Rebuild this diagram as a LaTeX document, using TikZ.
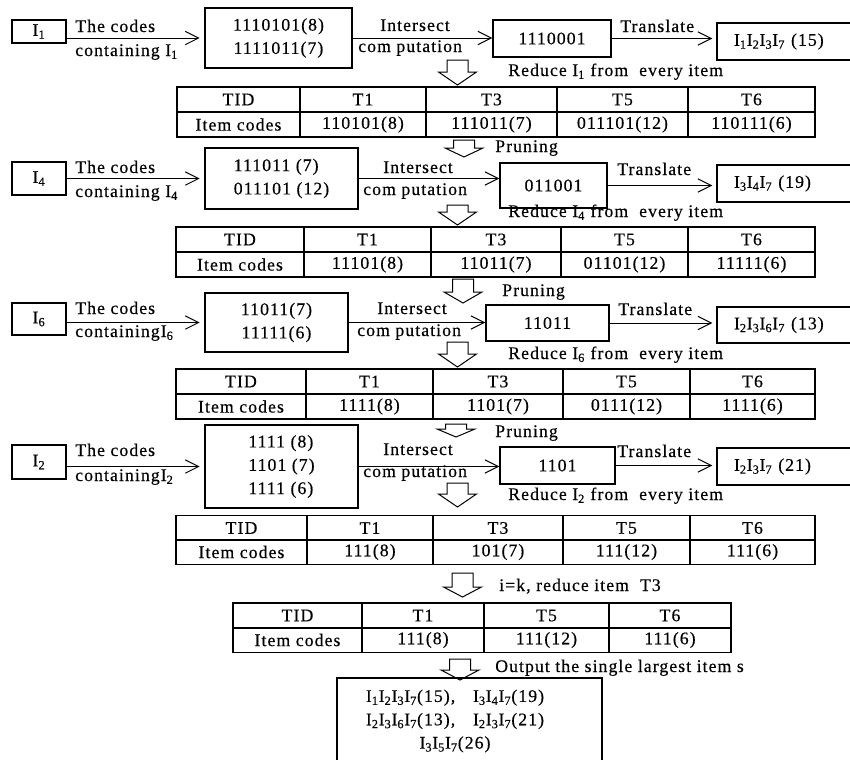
\documentclass[tikz,border=0pt]{standalone}
\usepackage{fontspec}
\setmainfont{Liberation Serif}[LetterSpace=6, FakeBold=0.4]
\usepackage{tikz}
\usetikzlibrary{arrows.meta}
\tikzstyle{box} = [rectangle, draw, line width=0.9pt, inner sep=0pt, align=center]
\tikzstyle{result} = [box, text width=75pt, inner xsep=12.75pt, align=left]
\tikzstyle{cell} = [rectangle, draw, line width=0.9pt, inner sep=0pt, minimum height=18.75pt]
\tikzstyle{lbl} = [anchor=west, inner sep=0pt, text height=9pt, text depth=3pt]
\tikzstyle{arrow} = [line width=0.75pt, ->, >={Straight Barb[length=10pt,width=10pt]}]
\tikzstyle{hollow} = [draw, line width=0.75pt, fill=white]
\tikzset{sz/.style 2 args={minimum width=#1*0.75pt, minimum height=#2*0.75pt}}
\newcommand{\itm}[1]{I\textsubscript{#1}}
\newcommand{\hollowdown}[4]{%
  \draw [hollow] (#1-10.5,#2) -- (#1+10.5,#2) -- (#1+10.5,#3-#4) -- (#1+19,#3-#4)
    -- (#1,#3) -- (#1-19,#3-#4) -- (#1-10.5,#3-#4) -- cycle;}

\begin{document}
\begin{tikzpicture}[x=0.75pt, y=-0.75pt, font=\fontsize{13.3}{17.5}\selectfont]
  \useasboundingbox (0,0) rectangle (850,760);

  % I1
  \node (i1) [box, sz={54}{23}] at (39,31.5) {\itm{1}};
  \node (c1) [box, sz={147}{60}] at (278.5,38) {1110101(8)\\1111011(7)};
  \node (s1) [box, sz={118}{37}] at (552,38.5) {1110001};
  \node (r1) [result, sz={134}{37}] at (784,41.5) {\itm{1}\itm{2}\itm{3}\itm{7} (15)};
  \draw [arrow, shorten >=3.5pt] (i1.east |- c1) -- (c1);
  \draw [arrow] (c1.east) -- (c1.east -| s1.west);
  \draw [arrow, shorten >=3pt] (s1.east) -- (s1.east -| r1.west);
  \node (l1a) [lbl] at (75,28) {The codes};
  \node (l1b) [lbl] at (75,52) {containing \itm{1}};
  \node (l1c) [lbl] at (380,27) {Intersect};
  \node (l1d) [lbl] at (358,48) {com putation};
  \node (l1e) [lbl] at (620,28) {Translate};
  \hollowdown{457.5}{60}{85}{13}
  \node (d1) [lbl] at (508,72) {Reduce \itm{1} from~~every item};
  \foreach \xa/\xb/\hd/\cd [count=\i] in {177/300/TID/Item codes, 300/426/T1/110101(8),
      426/557/T3/111011(7), 557/688/T5/011101(12), 688/815/T6/110111(6)} {
    \node (ta\i) [cell, minimum width={(\xb-\xa)*0.75pt}] at ({(\xa+\xb)/2},99.5) {\hd};
    \node (tb\i) [cell, minimum width={(\xb-\xa)*0.75pt}] at ({(\xa+\xb)/2},124.5) {\cd};
  }

  % I4
  \hollowdown{464}{140}{157}{9}
  \node (p1) [lbl] at (495,148) {Pruning};
  \node (i2) [box, sz={54}{33}] at (39,178.5) {\itm{4}};
  \node (c2) [box, sz={153}{61}, align=left] at (281.5,178.5) {111011 (7)\\011101 (12)};
  \node (s2) [box, sz={107}{45}] at (553.5,185.5) {011001};
  \node (r2) [result, sz={134}{37}] at (784,183.5) {\itm{3}\itm{4}\itm{7} (19)};
  \draw [arrow, shorten >=3.5pt] (i2.east |- c2) -- (c2);
  \draw [arrow] (c2.east) -- (c2.east -| s2.west);
  \draw [arrow, shorten >=3pt] (s2.east) -- (s2.east -| r2.west);
  \node (l2a) [lbl] at (75,169) {The codes};
  \node (l2b) [lbl] at (75,193) {containing \itm{4}};
  \node (l2c) [lbl] at (383,169) {Intersect};
  \node (l2d) [lbl] at (363,191) {com putation};
  \node (l2e) [lbl] at (617,171) {Translate};
  \hollowdown{457.5}{205}{225}{13}
  \node (d2) [lbl] at (508,213) {Reduce \itm{4} from~~every item};
  \foreach \xa/\xb/\hd/\cd [count=\i] in {176/304/TID/Item codes, 304/431/T1/11101(8),
      431/561/T3/11011(7), 561/688/T5/01101(12), 688/815/T6/11111(6)} {
    \node (tc\i) [cell, minimum width={(\xb-\xa)*0.75pt}] at ({(\xa+\xb)/2},239.5) {\hd};
    \node (td\i) [cell, minimum width={(\xb-\xa)*0.75pt}] at ({(\xa+\xb)/2},264.5) {\cd};
  }

  % I6
  \hollowdown{463}{279}{303}{11}
  \node (p2) [lbl] at (502,292) {Pruning};
  \node (i3) [box, sz={54}{32}] at (39,319) {\itm{6}};
  \node (c3) [box, sz={143}{59}] at (276.5,322.5) {11011(7)\\11111(6)};
  \node (s3) [box, sz={123}{36}] at (547.5,323) {11011};
  \node (r3) [result, sz={134}{36}] at (784,325) {\itm{2}\itm{3}\itm{6}\itm{7} (13)};
  \draw [arrow, shorten >=3.5pt] (i3.east |- c3) -- (c3);
  \draw [arrow] (c3.east) -- (c3.east -| s3.west);
  \draw [arrow, shorten >=3pt] (s3.east) -- (s3.east -| r3.west);
  \node (l3a) [lbl] at (75,310) {The codes};
  \node (l3b) [lbl] at (75,333) {containing\itm{6}};
  \node (l3c) [lbl] at (377,310) {Intersect};
  \node (l3d) [lbl] at (357,332) {com putation};
  \node (l3e) [lbl] at (618,311) {Translate};
  \hollowdown{457.5}{342}{367}{13}
  \node (d3) [lbl] at (508,355) {Reduce \itm{6} from~~every item};
  \foreach \xa/\xb/\hd/\cd [count=\i] in {176/306/TID/Item codes, 306/433/T1/1111(8),
      433/563/T3/1101(7), 563/690/T5/0111(12), 690/815/T6/1111(6)} {
    \node (te\i) [cell, minimum width={(\xb-\xa)*0.75pt}] at ({(\xa+\xb)/2},381.5) {\hd};
    \node (tf\i) [cell, minimum width={(\xb-\xa)*0.75pt}] at ({(\xa+\xb)/2},406.5) {\cd};
  }

  % I2
  \hollowdown{456}{424}{437}{8}
  \node (p3) [lbl] at (495,433) {Pruning};
  \node (i4) [box, sz={54}{34}] at (39,462) {\itm{2}};
  \node (c4) [box, sz={153}{83}, align=left] at (281.5,466.5) {1111 (8)\\1101 (7)\\1111 (6)};
  \node (s4) [box, sz={115}{37}] at (557.5,465.5) {1101};
  \node (r4) [result, sz={134}{37}] at (784,466.5) {\itm{2}\itm{3}\itm{7} (21)};
  \draw [arrow, shorten >=3.5pt] (i4.east |- c4) -- (c4);
  \draw [arrow] (c4.east) -- (c4.east -| s4.west);
  \draw [arrow, shorten >=3pt] (s4.east) -- (s4.east -| r4.west);
  \node (l4a) [lbl] at (75,452) {The codes};
  \node (l4b) [lbl] at (75,477) {containing\itm{2}};
  \node (l4c) [lbl] at (383,451) {Intersect};
  \node (l4d) [lbl] at (363,473) {com putation};
  \node (l4e) [lbl] at (617,453) {Translate};
  \hollowdown{457.5}{483}{507}{13}
  \node (d4) [lbl] at (508,496) {Reduce \itm{2} from~~every item};
  \foreach \xa/\xb/\hd/\cd [count=\i] in {176/307/TID/Item codes, 307/433/T1/111(8),
      433/563/T3/101(7), 563/690/T5/111(12), 690/815/T6/111(6)} {
    \node (tg\i) [cell, minimum width={(\xb-\xa)*0.75pt}] at ({(\xa+\xb)/2},528) {\hd};
    \node (th\i) [cell, minimum width={(\xb-\xa)*0.75pt}] at ({(\xa+\xb)/2},552) {\cd};
  }

  % i=k
  \hollowdown{462.5}{573}{597}{10}
  \node (k1) [lbl] at (499,587) {i=k, reduce item~~T3};
  \foreach \xa/\xb/\hd/\cd [count=\i] in {233/362/TID/Item codes, 362/484/T1/111(8),
      484/609/T5/111(12), 609/731/T6/111(6)} {
    \node (ti\i) [cell, minimum width={(\xb-\xa)*0.75pt}] at ({(\xa+\xb)/2},615.5) {\hd};
    \node (tj\i) [cell, minimum width={(\xb-\xa)*0.75pt}] at ({(\xa+\xb)/2},640) {\cd};
  }

  % output
  \hollowdown{460}{659}{680}{10}
  \node (o1) [lbl] at (495,668) {Output the single largest item s};
  \node (final) [box, sz={265}{90}] at (469.5,723) {};
  \node (finaltxt) [inner sep=0pt, align=center] at (455,721)
    {\itm{1}\itm{2}\itm{3}\itm{7}(15),\quad \itm{3}\itm{4}\itm{7}(19)\\
     \itm{2}\itm{3}\itm{6}\itm{7}(13),\quad \itm{2}\itm{3}\itm{7}(21)\\
     \itm{3}\itm{5}\itm{7}(26)};
\end{tikzpicture}
\end{document}
